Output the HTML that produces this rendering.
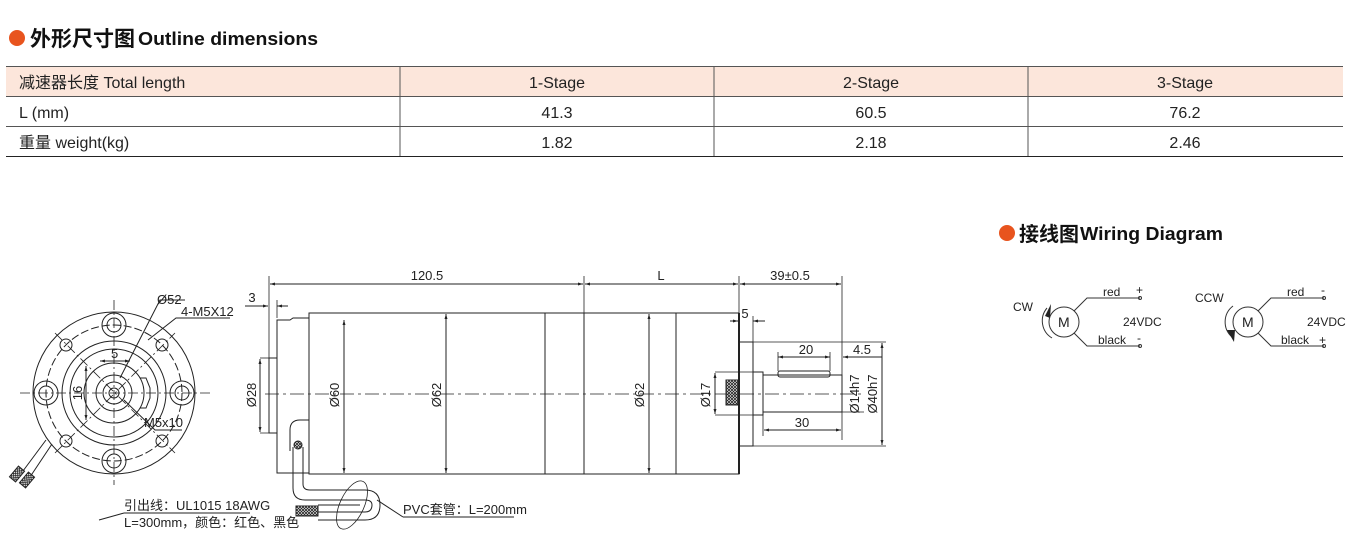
<!DOCTYPE html>
<html><head><meta charset="utf-8"><style>
body{margin:0;background:#fff;width:1348px;height:550px;overflow:hidden}
svg{display:block}
.t{font-family:"Liberation Sans","Noto Sans CJK SC",sans-serif}
</style></head><body>
<svg width="1348" height="550" viewBox="0 0 1348 550" xmlns="http://www.w3.org/2000/svg" class="t">
<defs>
<marker id="a" viewBox="0 0 10 10" refX="10" refY="5" markerWidth="7" markerHeight="5" orient="auto-start-reverse"><path d="M0,2 L10,5 L0,8z" fill="#222"/></marker>
<pattern id="h" width="3" height="3" patternUnits="userSpaceOnUse"><rect width="3" height="3" fill="#fff"/><path d="M0,0L3,3M3,0L0,3" stroke="#222" stroke-width="0.8"/></pattern>
</defs>
<circle cx="17" cy="38" r="8" fill="#e8541e"/>
<text x="30" y="46" font-size="21" font-weight="bold" fill="#111">外形尺寸图</text>
<text x="138" y="45" font-size="18" font-weight="bold" fill="#111" textLength="180" lengthAdjust="spacingAndGlyphs">Outline dimensions</text>
<rect x="6" y="66" width="1337" height="30" fill="#fce6db"/>
<g stroke="#555" stroke-width="1">
<line x1="6" y1="66.5" x2="1343" y2="66.5"/>
<line x1="6" y1="96.5" x2="1343" y2="96.5"/>
<line x1="6" y1="126.5" x2="1343" y2="126.5"/>
<line x1="6" y1="156.5" x2="1343" y2="156.5" stroke="#222"/>
<line x1="400" y1="66" x2="400" y2="156"/>
<line x1="714" y1="66" x2="714" y2="156"/>
<line x1="1028" y1="66" x2="1028" y2="156"/>
</g>
<g font-size="16" fill="#222">
<text x="19" y="88">减速器长度 Total length</text>
<text x="19" y="118">L (mm)</text>
<text x="19" y="148">重量 weight(kg)</text>
<g text-anchor="middle">
<text x="557" y="88">1-Stage</text><text x="871" y="88">2-Stage</text><text x="1185" y="88">3-Stage</text>
<text x="557" y="118">41.3</text><text x="871" y="118">60.5</text><text x="1185" y="118">76.2</text>
<text x="557" y="148">1.82</text><text x="871" y="148">2.18</text><text x="1185" y="148">2.46</text>
</g></g>
<circle cx="1007" cy="233" r="8" fill="#e8541e"/>
<text x="1019" y="241" font-size="20" font-weight="bold" fill="#111">接线图</text>
<text x="1080" y="240" font-size="18" font-weight="bold" fill="#111" textLength="143" lengthAdjust="spacingAndGlyphs">Wiring Diagram</text>
<g stroke="#333" fill="none" stroke-width="1">
<circle cx="1064" cy="322" r="15"/>
<path d="M1074,311 L1087,298 H1140"/><path d="M1074,333 L1087,346 H1140"/>
<path d="M1052,338 A20,20 0 0 1 1047,308"/>
<circle cx="1248" cy="322" r="15"/>
<path d="M1258,311 L1271,298 H1324"/><path d="M1258,333 L1271,346 H1324"/>
<path d="M1233,306 A20,20 0 0 0 1232,337"/>
<circle cx="1140" cy="298" r="1.5"/><circle cx="1140" cy="346" r="1.5"/>
<circle cx="1324" cy="298" r="1.5"/><circle cx="1324" cy="346" r="1.5"/>
</g>
<path d="M1045,316 L1051,304 L1050,318z" fill="#222"/>
<path d="M1227,330 L1234,342 L1235,330z" fill="#222"/>
<g font-size="12" fill="#222">
<text x="1013" y="311">CW</text><text x="1058" y="327" font-size="14">M</text>
<text x="1103" y="296">red</text><text x="1136" y="294">+</text>
<text x="1123" y="326">24VDC</text>
<text x="1098" y="344">black</text><text x="1137" y="342">-</text>
<text x="1195" y="302">CCW</text><text x="1242" y="327" font-size="14">M</text>
<text x="1287" y="296">red</text><text x="1321" y="294">-</text>
<text x="1307" y="326">24VDC</text>
<text x="1281" y="344">black</text><text x="1319" y="344">+</text>
</g>
<g stroke="#222" fill="none" stroke-width="1">
<circle cx="114" cy="393" r="81"/>
<circle cx="114" cy="393" r="68" stroke-dasharray="8,3"/>
<circle cx="114" cy="393" r="52"/>
<circle cx="114" cy="393" r="44"/>
<circle cx="114" cy="393" r="30"/>
<circle cx="114" cy="393" r="18"/>
<circle cx="114" cy="393" r="11"/>
<circle cx="114" cy="393" r="5"/>
<g>
<circle cx="114" cy="325" r="12"/><circle cx="114" cy="325" r="7"/>
<circle cx="114" cy="461" r="12"/><circle cx="114" cy="461" r="7"/>
<circle cx="46" cy="393" r="12"/><circle cx="46" cy="393" r="7"/>
<circle cx="182" cy="393" r="12"/><circle cx="182" cy="393" r="7"/>
<circle cx="66" cy="345" r="6"/><circle cx="162" cy="345" r="6"/>
<circle cx="66" cy="441" r="6"/><circle cx="162" cy="441" r="6"/>
</g>
<g stroke-dasharray="10,3,2,3" stroke-width="0.8">
<line x1="20" y1="393" x2="210" y2="393"/><line x1="114" y1="300" x2="114" y2="485"/>
<line x1="55" y1="333" x2="175" y2="453"/><line x1="55" y1="453" x2="175" y2="333"/>
</g>
<path d="M140,378 l6,0 l4,10 l0,10 l-4,10 l-6,0"/>
<line x1="86" y1="366" x2="86" y2="420" marker-start="url(#a)" marker-end="url(#a)"/>
<line x1="100" y1="361" x2="130" y2="361" marker-start="url(#a)" marker-end="url(#a)"/>
<path d="M120,378 L160,300 H185"/>
<path d="M148,340 L176,318 H230"/>
<path d="M124,400 L155,430 H182"/>
<path d="M46,440 L20,475 M52,444 L28,480"/>
</g>
<rect x="10" y="470" width="14" height="8" fill="url(#h)" stroke="#222" transform="rotate(-50 17 474)"/>
<rect x="20" y="476" width="14" height="8" fill="url(#h)" stroke="#222" transform="rotate(-50 27 480)"/>
<g font-size="13" fill="#222">
<text x="157" y="304">Ø52</text><text x="181" y="316">4-M5X12</text>
<text x="111" y="358">5</text>
<text transform="translate(82 393) rotate(-90)" text-anchor="middle">16</text>
<text x="144" y="427">M5x10</text>
<text x="124" y="510">引出线：UL1015 18AWG</text>
<text x="124" y="527">L=300mm，颜色：红色、黑色</text>
<text x="403" y="514">PVC套管：L=200mm</text>
</g>
<g stroke="#222" fill="none" stroke-width="1">
<line x1="124" y1="513" x2="250" y2="513"/>
<line x1="403" y1="517" x2="514" y2="517"/>
<path d="M403,517 L377,500"/>
<path d="M124,513 L99,520"/>
<rect x="309" y="313" width="430" height="161"/>
<line x1="739" y1="313" x2="739" y2="474" stroke-width="2"/>
<path d="M309,318 H293 L290,320 H277 V473 H309"/>
<path d="M277,358 H269 V433 H277"/>
<line x1="545" y1="313" x2="545" y2="474"/>
<line x1="584" y1="313" x2="584" y2="474"/>
<line x1="676" y1="313" x2="676" y2="474"/>
<rect x="739" y="342" width="14" height="104"/>
<rect x="753" y="372" width="10" height="43"/>
<path d="M763,375 H842 V412 H763"/>
<rect x="778" y="371" width="52" height="6" rx="2"/>
<rect x="726" y="380" width="12" height="25" fill="url(#h)"/>
<line x1="265" y1="394" x2="862" y2="394" stroke-dasharray="14,4,3,4" stroke-width="0.8"/>
<line x1="269" y1="276" x2="269" y2="358" stroke-width="0.8"/>
<line x1="584" y1="276" x2="584" y2="313" stroke-width="0.8"/>
<line x1="739" y1="276" x2="739" y2="313" stroke-width="0.8"/>
<line x1="842" y1="276" x2="842" y2="440" stroke-width="0.8"/>
<line x1="270" y1="284" x2="583" y2="284" marker-start="url(#a)" marker-end="url(#a)"/>
<line x1="585" y1="284" x2="738" y2="284" marker-start="url(#a)" marker-end="url(#a)"/>
<line x1="740" y1="284" x2="841" y2="284" marker-start="url(#a)" marker-end="url(#a)"/>
<line x1="245" y1="306" x2="268" y2="306" marker-end="url(#a)"/>
<line x1="277" y1="306" x2="288" y2="306" marker-start="url(#a)"/>
<line x1="277" y1="300" x2="277" y2="318" stroke-width="0.8"/>
<line x1="730" y1="321" x2="738" y2="321" marker-end="url(#a)"/>
<line x1="753" y1="321" x2="765" y2="321" marker-start="url(#a)"/>
<line x1="753" y1="316" x2="753" y2="342" stroke-width="0.8"/>
<line x1="260" y1="359" x2="260" y2="432" marker-start="url(#a)" marker-end="url(#a)"/>
<line x1="260" y1="358" x2="269" y2="358" stroke-width="0.8"/><line x1="260" y1="433" x2="277" y2="433" stroke-width="0.8"/>
<line x1="344" y1="320" x2="344" y2="473" marker-start="url(#a)" marker-end="url(#a)"/>
<line x1="446" y1="314" x2="446" y2="473" marker-start="url(#a)" marker-end="url(#a)"/>
<line x1="649" y1="314" x2="649" y2="473" marker-start="url(#a)" marker-end="url(#a)"/>
<line x1="715" y1="373" x2="715" y2="414" marker-start="url(#a)" marker-end="url(#a)"/>
<line x1="715" y1="372" x2="753" y2="372" stroke-width="0.8"/><line x1="715" y1="415" x2="753" y2="415" stroke-width="0.8"/>
<line x1="778" y1="357" x2="830" y2="357" marker-start="url(#a)" marker-end="url(#a)"/>
<line x1="778" y1="352" x2="778" y2="371" stroke-width="0.8"/><line x1="830" y1="352" x2="830" y2="371" stroke-width="0.8"/>
<line x1="843" y1="357" x2="882" y2="357" marker-start="url(#a)"/>
<line x1="764" y1="430" x2="841" y2="430" marker-start="url(#a)" marker-end="url(#a)"/>
<line x1="763" y1="415" x2="763" y2="436" stroke-width="0.8"/>
<line x1="753" y1="342" x2="886" y2="342" stroke-width="0.8"/><line x1="753" y1="446" x2="886" y2="446" stroke-width="0.8"/>
<line x1="882" y1="343" x2="882" y2="445" marker-start="url(#a)" marker-end="url(#a)"/>
<line x1="842" y1="412" x2="864" y2="412" stroke-width="0.8"/>
<path d="M290,451 V430 Q290,420 300,420 H309" />
<path d="M293,447 V488 Q293,500 305,500 H365 Q372,500 372,505 Q372,512 365,512 H318"/>
<path d="M303,447 V484 Q303,490 310,490 H365 Q380,490 380,505 Q380,520 365,520 H318"/>
<line x1="360" y1="505" x2="318" y2="505"/>
<ellipse cx="352" cy="505" rx="12" ry="26" transform="rotate(25 352 505)" stroke-width="0.8"/>
</g>
<circle cx="298" cy="445" r="4" fill="url(#h)" stroke="#222"/>
<rect x="296" y="506" width="22" height="10" fill="url(#h)" stroke="#222"/>
<g font-size="13" fill="#222" text-anchor="middle">
<text x="427" y="280">120.5</text><text x="661" y="280">L</text><text x="790" y="280">39±0.5</text>
<text x="252" y="302">3</text><text x="745" y="318">5</text>
<text x="806" y="354">20</text><text x="862" y="354">4.5</text><text x="802" y="427">30</text>
<text transform="translate(256 395) rotate(-90)">Ø28</text>
<text transform="translate(339 395) rotate(-90)">Ø60</text>
<text transform="translate(441 395) rotate(-90)">Ø62</text>
<text transform="translate(644 395) rotate(-90)">Ø62</text>
<text transform="translate(710 395) rotate(-90)">Ø17</text>
<text transform="translate(859 394) rotate(-90)">Ø14h7</text>
<text transform="translate(877 394) rotate(-90)">Ø40h7</text>
</g>
</svg>
</body></html>
